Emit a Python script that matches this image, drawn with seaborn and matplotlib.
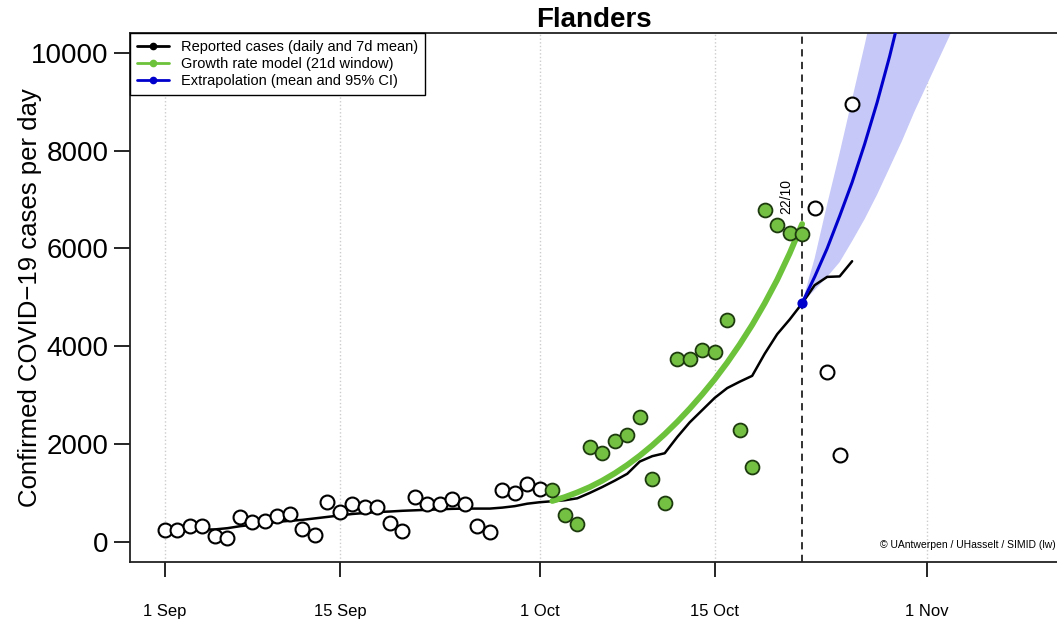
import pandas as pd
import seaborn as sns
import matplotlib.pyplot as plt
import matplotlib.dates as mdates
from matplotlib.lines import Line2D

# Daily reported cases, 1 Sep - 26 Oct
start = pd.Timestamp("2020-09-01")
reported = [245, 245, 327, 340, 123, 82, 511, 416, 436, 538, 572,
            266, 157, 818, 620, 791, 716, 716, 395, 225, 920,
            791, 791, 893, 777, 334, 211, 1063, 1016, 1200, 1098,
            1063, 552, 382, 1949, 1827, 2072, 2202, 2550, 1302, 811,
            3742, 3742, 3926, 3892, 4540, 2290, 1540, 6789, 6483, 6325,
            6292, 6824, 3470, 1793, 8957]

# 7 day mean
mean7 = [230, 240, 250, 260, 265, 290, 330, 360, 390, 420,
         440, 460, 490, 520, 550, 580, 600, 620, 630, 645,
         655, 665, 675, 685, 690, 690, 690, 710, 740, 790,
         820, 840, 860, 900, 1010, 1130, 1260, 1400, 1650, 1760,
         1820, 2150, 2450, 2700, 2950, 3150, 3280, 3400, 3850, 4250,
         4550, 4880, 5250, 5420, 5430, 5740]

# growth rate model, 21 day window (2 Oct - 22 Oct)
model = [845, 925, 1020, 1130, 1260, 1410, 1580, 1770, 1980, 2210, 2460,
         2730, 3020, 3330, 3670, 4040, 4440, 4880, 5360, 5900, 6500]

# extrapolation from 22 Oct
extra_mean = [4890, 5420, 6000, 6660, 7350, 8130, 8980, 9920, 10960,
              12100, 13350, 14700, 16200]
extra_low = [4890, 5150, 5420, 5720, 6150, 6600, 7100, 7650, 8200,
             8800, 9350, 9900, 10450]
extra_high = [4890, 5800, 6900, 7950, 9050, 10150, 11300, 12500, 13800,
              15200, 16700, 18300, 20000]

window_start = 31  # index of 2 Oct
last_day = 51      # index of 22 Oct

days = pd.date_range(start, periods=len(reported))
df = pd.DataFrame({"date": days, "cases": reported, "mean7": mean7})
df["in_window"] = (df.index >= window_start) & (df.index <= last_day)
model_df = pd.DataFrame({"date": days[window_start:last_day + 1], "fit": model})
extra_df = pd.DataFrame({"date": pd.date_range(days[last_day], periods=len(extra_mean)),
                         "mean": extra_mean, "low": extra_low, "high": extra_high})

green = "#6cc23a"
blue = "#0000cc"

sns.set_style("white")
plt.rcParams["font.family"] = ["Liberation Sans", "DejaVu Sans"]
plt.rcParams["text.color"] = "black"
plt.rcParams["axes.labelcolor"] = "black"
plt.rcParams["xtick.color"] = "black"
plt.rcParams["ytick.color"] = "black"

fig = plt.figure(figsize=(10.57, 6.22), dpi=100)
ax = fig.add_axes([0.123, 0.0965, 0.877, 0.8505])

# grid at the labelled dates
ticks = pd.to_datetime(["2020-09-01", "2020-09-15", "2020-10-01", "2020-10-15", "2020-11-01"])
for t in ticks:
    ax.axvline(t, color="#cccccc", ls=":", lw=1, zorder=0)

# extrapolation band and line
ax.fill_between(extra_df["date"], extra_df["low"], extra_df["high"],
                color="#c6c8f7", lw=0, zorder=1)
sns.lineplot(data=extra_df, x="date", y="mean", color=blue, lw=2.2, ax=ax, zorder=3)

# 7 day mean and model
sns.lineplot(data=df, x="date", y="mean7", color="black", lw=1.8, ax=ax, zorder=2)
sns.lineplot(data=model_df, x="date", y="fit", color=green, lw=4.2, ax=ax, zorder=2)

# daily points
sns.scatterplot(data=df[~df["in_window"]], x="date", y="cases", s=100,
                facecolor="white", edgecolor="black", linewidth=1.5, ax=ax, zorder=4)
sns.scatterplot(data=df[df["in_window"]], x="date", y="cases", s=100,
                color="#74c043", edgecolor="#1d3a0e", linewidth=1.3, ax=ax, zorder=4)

ax.scatter(extra_df["date"].iloc[0], extra_df["mean"].iloc[0], s=40, color=blue, zorder=5)

# last day of data
ax.axvline(days[last_day], color="#222222", ls=(0, (4, 3)), lw=1.3, zorder=1)
ax.text(days[last_day] - pd.Timedelta(days=1.3), 6700, "22/10", rotation=90,
        ha="center", va="bottom", fontsize=10)

ax.text(0.9985, 0.032, "\u00a9 UAntwerpen / UHasselt / SIMID (lw)", transform=ax.transAxes,
        ha="right", va="center", fontsize=7.5)

ax.set_xlim(start - pd.Timedelta(days=2.8), start + pd.Timedelta(days=71.4))
ax.set_ylim(-400, 10400)
ax.set_xticks(ticks)
ax.xaxis.set_major_formatter(mdates.DateFormatter("%-d %b"))
ax.set_yticks([0, 2000, 4000, 6000, 8000, 10000])
ax.tick_params(axis="y", direction="out", length=11.5, width=1.2, labelsize=20, pad=4, left=True)
ax.tick_params(axis="x", direction="out", length=11, width=1.2, labelsize=12, pad=19, bottom=True)

ax.set_xlabel("")
ax.set_ylabel("Confirmed COVID\u221219 cases per day", fontsize=18.5, va="center")
ax.yaxis.set_label_coords(-0.108, 0.5)
ax.set_title("Flanders", fontsize=20, fontweight="bold", pad=4)

for side in ["left", "bottom", "top"]:
    ax.spines[side].set_color("#222222")
    ax.spines[side].set_linewidth(1.3)
ax.spines["right"].set_visible(False)

handles = [Line2D([], [], color="black", marker="o", ms=4.5, lw=2),
           Line2D([], [], color=green, marker="o", ms=4.5, lw=2),
           Line2D([], [], color=blue, marker="o", ms=4.5, lw=2)]
labels = ["Reported cases (daily and 7d mean)", "Growth rate model (21d window)",
          "Extrapolation (mean and 95% CI)"]
leg = ax.legend(handles, labels, loc="upper left", fontsize=10.5, frameon=True,
                fancybox=False, edgecolor="black", borderaxespad=0, labelspacing=0.2,
                handlelength=2.2, borderpad=0.5)
leg.get_frame().set_linewidth(1.0)
leg.get_frame().set_alpha(1)

plt.savefig("out.png", dpi=100)
